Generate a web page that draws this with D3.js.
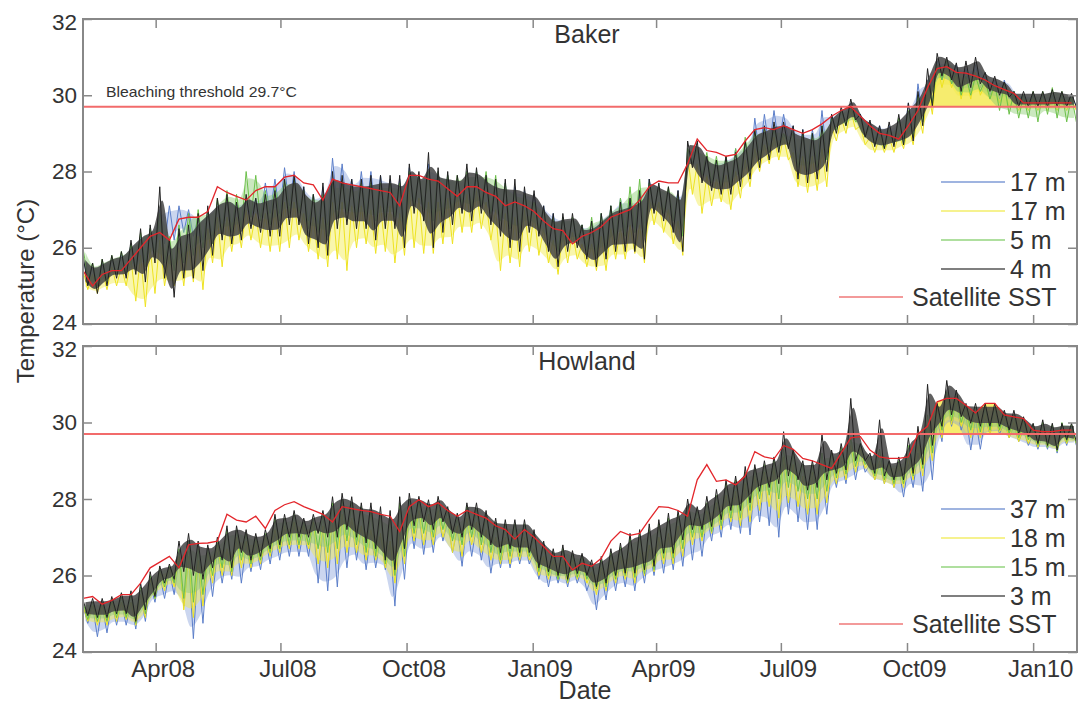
<!DOCTYPE html>
<html><head><meta charset="utf-8">
<script src="https://cdn.jsdelivr.net/npm/d3@7"></script>
<style>
body{margin:0;background:#fff}
svg{display:block}
text{font-family:"Liberation Sans",Arial,sans-serif;fill:#333}
</style>
</head><body>
<svg id="c" width="1078" height="706"></svg>
<script>
// ---------- axis / category data ----------
const startDate = new Date(2008, 1, 8);
const endDate = new Date(2010, 1, 2);
const stepDays = 7; // weekly readings: hi and lo of each week
const tickDates = [new Date(2008,3,1), new Date(2008,6,1), new Date(2008,9,1), new Date(2009,0,1),
                   new Date(2009,3,1), new Date(2009,6,1), new Date(2009,9,1), new Date(2010,0,1)];
const tickLabels = ["Apr08","Jul08","Oct08","Jan09","Apr09","Jul09","Oct09","Jan10"];
const yTicks = [24, 26, 28, 30, 32];
const threshold = 29.7;
const panelTitles = ["Baker", "Howland"];
const bakerDepths = ["17 m", "17 m", "5 m", "4 m"];
const howlandDepths = ["37 m", "18 m", "15 m", "3 m"];
const sstLabel = "Satellite SST";

// ---------- Baker series (weekly high / low, °C) ----------
const bakerBlueHi = [25.7,25.5,25.6,25.7,25.8,26.1,26.3,26.5,27.0,27.1,
27.1,27.0,26.8,27.0,27.2,27.3,27.2,27.3,27.3,27.7,
27.8,28.1,28.0,27.6,27.4,27.6,28.35,28.2,27.8,28.0,
28.0,27.9,27.8,27.8,28.1,27.9,28.2,28.0,27.9,27.8,
28.0,28.0,27.8,27.7,27.7,27.6,27.5,27.4,27.1,26.9,
26.8,26.8,26.6,26.7,26.9,27.1,27.3,27.3,27.5,27.8,
27.6,27.5,27.5,28.6,28.6,28.3,28.3,28.4,28.6,28.8,
29.4,29.5,29.6,29.5,29.2,29.1,29.1,29.6,29.5,29.6,
29.8,29.5,29.3,29.2,29.2,29.4,29.8,30.3,30.4,30.9,
30.9,30.8,30.7,30.8,30.5,30.4,30.4,30.1,30.0,30.0,
30.0,30.0,30.0,30.0];
const bakerBlueLo = [25.2,25.0,25.2,25.3,25.4,25.5,25.6,25.9,26.1,26.2,
26.4,26.3,26.2,26.3,26.6,26.6,26.6,26.8,26.8,26.9,
26.9,27.1,27.0,26.7,26.6,26.6,27.0,27.0,26.9,26.9,
26.8,26.9,26.9,26.6,27.2,27.0,26.8,26.9,27.0,27.1,
27.0,27.1,26.9,26.7,26.5,26.4,26.6,26.5,26.2,26.0,
26.1,26.2,26.0,25.9,26.0,26.2,26.4,26.4,26.3,27.0,
26.9,26.7,26.4,28.2,27.9,27.7,27.7,27.7,27.8,28.0,
28.4,28.6,28.7,28.8,28.3,28.2,28.3,28.4,29.1,29.3,
29.4,29.0,28.8,28.7,28.7,28.8,28.9,29.4,29.8,30.4,
30.3,30.1,30.1,30.2,30.0,29.9,29.9,29.7,29.7,29.7,
29.7,29.7,29.7,29.7];
const bakerYellowHi = [25.4,25.3,25.4,25.5,25.5,25.7,25.8,26.0,26.2,25.8,
26.0,26.1,26.3,26.5,26.8,26.8,26.8,27.0,26.9,26.9,
27.0,27.2,27.2,26.9,26.8,26.8,27.2,27.2,27.1,27.1,
27.0,27.1,27.1,26.9,27.5,27.3,27.2,27.2,27.3,27.4,
27.4,27.5,27.2,27.0,26.9,26.8,27.0,26.9,26.5,26.2,
26.4,26.4,26.1,26.1,26.3,26.5,26.5,26.6,26.6,27.3,
27.2,27.0,26.7,28.4,28.2,27.9,27.8,27.9,28.0,28.3,
28.6,28.7,28.9,28.9,28.5,28.4,28.4,28.6,29.2,29.4,
29.6,29.2,28.9,28.9,28.9,29.0,29.2,29.6,30.2,30.8,
30.7,30.5,30.5,30.6,30.3,30.2,30.1,29.9,29.9,29.9,
29.9,29.9,29.9,29.9];
const bakerYellowLo = [24.9,24.8,24.9,25.0,25.0,24.6,24.45,24.8,25.0,25.0,
25.0,25.1,24.9,25.6,25.5,25.9,26.0,26.2,26.0,25.9,
25.9,26.0,26.2,25.9,25.7,25.5,25.7,25.4,26.0,26.1,
25.85,25.9,25.6,25.8,26.0,25.85,25.85,26.1,26.1,26.4,
26.4,26.5,26.2,25.4,25.6,25.5,25.9,25.8,25.6,25.3,
25.6,25.7,25.5,25.4,25.4,25.7,25.7,25.85,25.6,26.6,
26.4,26.1,25.8,27.4,26.9,27.1,27.2,27.0,27.3,27.6,
28.0,28.2,28.3,28.3,27.6,27.45,27.5,27.6,28.8,29.0,
29.1,28.7,28.5,28.5,28.5,28.6,28.7,29.0,29.5,30.2,
30.2,29.9,29.9,30.0,29.9,29.8,29.7,29.6,29.6,29.6,
29.6,29.6,29.6,29.6];
const bakerGreenHi = [26.0,25.6,25.7,25.8,25.9,26.1,26.4,26.5,26.9,26.3,
26.6,26.9,27.0,27.0,27.3,27.5,27.4,28.0,27.9,27.5,
27.6,27.8,27.8,27.5,27.4,27.4,27.7,27.7,27.6,27.7,
27.7,27.7,27.7,27.7,28.0,27.9,28.0,28.0,27.9,27.9,
28.0,28.0,28.0,27.9,27.7,27.5,27.4,27.2,27.0,26.8,
26.8,26.8,26.6,26.8,26.9,27.1,27.3,27.6,27.8,27.7,
27.6,27.6,27.4,28.6,28.6,28.5,28.4,28.4,28.6,28.9,
29.1,29.1,29.1,29.0,29.0,29.0,29.0,29.2,29.4,29.6,
29.7,29.4,29.2,29.1,29.1,29.4,29.6,30.0,30.3,30.8,
30.9,30.6,30.5,30.5,30.4,30.3,30.3,30.1,30.0,30.1,
30.1,30.2,30.1,30.0];
const bakerGreenLo = [25.2,25.0,25.1,25.3,25.3,25.4,25.5,25.8,25.6,25.4,
25.6,25.8,26.0,26.1,26.4,26.4,26.5,26.8,26.7,26.6,
26.7,26.9,26.9,26.5,26.4,26.3,26.8,26.9,26.8,26.8,
26.7,26.8,26.8,26.5,27.1,27.0,26.7,26.8,26.9,27.1,
27.0,27.1,26.9,26.7,26.5,26.4,26.6,26.5,26.2,25.9,
26.1,26.2,25.9,25.8,25.9,26.2,26.3,26.4,26.3,27.0,
26.9,26.7,26.3,28.2,27.9,27.7,27.6,27.6,27.8,28.0,
28.3,28.5,28.6,28.7,28.1,28.0,28.1,28.3,29.1,29.2,
29.3,28.9,28.7,28.6,28.7,28.7,28.9,29.3,29.8,30.4,
30.3,30.0,30.0,30.1,29.9,29.6,29.5,29.4,29.4,29.3,
29.5,29.4,29.3,29.3];
const bakerBlackHi = [25.8,25.6,25.7,25.8,25.9,26.2,26.5,26.6,27.6,26.2,
26.5,26.6,26.9,27.1,27.3,27.4,27.2,27.4,27.3,27.4,
27.5,27.8,27.9,27.6,27.4,27.7,28.0,27.9,27.8,27.8,
27.9,27.9,27.9,27.9,28.2,28.0,28.5,28.1,28.0,27.9,
28.2,28.1,27.9,27.8,27.8,27.8,27.6,27.5,27.1,26.9,
26.9,26.9,26.6,26.7,26.9,27.1,27.2,27.3,27.5,27.8,
27.7,27.6,27.5,28.8,28.8,28.4,28.3,28.4,28.5,28.8,
29.1,29.2,29.3,29.3,29.2,29.1,29.0,29.2,29.5,29.7,
29.9,29.5,29.35,29.2,29.3,29.5,29.8,30.1,30.7,31.1,
31.0,30.85,30.9,31.0,30.6,30.5,30.35,30.1,30.1,30.1,
30.1,30.15,30.1,30.05];
const bakerBlackLo = [25.0,24.8,25.0,25.2,25.2,25.3,25.1,25.6,25.2,24.7,
25.2,25.2,25.4,25.8,26.2,26.1,26.2,26.5,26.4,26.3,
26.3,26.6,26.6,26.1,26.0,25.8,26.5,26.6,26.5,26.5,
26.2,26.5,26.5,26.0,26.9,26.7,26.0,26.4,26.6,26.9,
26.7,26.9,26.6,26.3,26.0,25.9,26.4,26.3,25.9,25.5,
25.9,26.0,25.7,25.5,25.7,25.9,25.9,25.9,25.7,26.9,
26.7,26.4,25.9,28.1,27.7,27.5,27.4,27.4,27.6,27.8,
28.1,28.3,28.5,28.6,27.8,27.7,27.8,28.0,29.0,29.2,
29.35,28.9,28.65,28.6,28.65,28.7,28.8,29.2,29.7,30.5,
30.4,30.1,30.2,30.3,30.1,30.0,29.95,29.7,29.7,29.7,
29.7,29.7,29.7,29.7];
const bakerSST = [25.4,25.0,25.3,25.4,25.4,25.7,26.0,26.3,26.4,26.2,
26.75,26.8,26.8,26.95,27.6,27.45,27.35,27.25,27.5,27.6,
27.6,27.85,27.9,27.7,27.65,27.25,27.8,27.7,27.65,27.6,
27.55,27.5,27.45,27.1,27.9,27.9,27.8,27.75,27.55,27.35,
27.6,27.6,27.45,27.35,27.1,27.2,27.1,26.95,26.7,26.5,
26.45,26.1,26.3,26.4,26.55,26.8,26.9,27.0,27.25,27.6,
27.75,27.7,27.7,28.2,28.85,28.55,28.5,28.4,28.45,28.8,
29.1,29.15,29.1,29.2,29.1,29.0,29.1,29.25,29.45,29.6,
29.7,29.45,29.2,29.0,28.95,28.85,29.2,29.6,30.2,30.7,
30.75,30.6,30.58,30.5,30.4,30.25,30.15,30.05,29.8,29.8,
29.8,29.8,29.8,29.8];

// ---------- Howland series (weekly high / low, °C) ----------
const howlandBlueHi = [25.2,25.2,25.2,25.3,25.3,25.3,25.5,25.8,26.0,26.1,
26.4,26.4,26.3,26.5,26.6,26.6,26.9,26.8,26.8,27.0,
27.1,27.2,27.3,27.2,27.3,27.2,27.4,27.5,27.4,27.2,
27.1,27.0,26.8,27.2,27.6,27.6,27.5,27.6,27.4,27.2,
27.4,27.3,27.1,26.9,26.9,26.9,26.9,26.6,26.4,26.3,
26.3,26.3,26.2,26.0,26.1,26.3,26.4,26.5,26.6,26.7,
26.9,27.0,27.2,27.5,27.5,27.6,27.8,28.0,28.1,28.3,
28.5,28.6,28.7,28.9,28.8,28.5,28.6,28.8,28.9,29.0,
29.3,29.2,28.9,28.9,28.8,28.8,28.9,29.2,29.7,30.1,
30.6,30.5,30.2,30.1,30.1,30.2,30.0,29.9,29.8,29.7,
29.7,29.9,29.8,29.9];
const howlandBlueLo = [24.75,24.4,24.5,24.7,24.7,24.6,24.8,25.3,25.4,25.5,
25.2,24.35,24.75,25.45,25.8,25.9,25.8,26.1,26.15,26.3,
26.4,26.5,26.5,26.5,25.8,25.6,25.7,26.2,26.4,26.15,
26.2,26.15,25.2,25.9,26.7,26.55,26.6,26.9,26.6,26.24,
26.5,26.4,26.06,26.2,26.2,26.3,26.3,25.9,25.7,25.8,
25.7,25.8,25.6,25.1,25.36,25.6,25.7,25.6,25.8,26.0,
26.06,26.15,26.24,26.4,26.5,26.9,27.0,27.2,27.1,27.06,
27.4,27.3,27.0,27.6,27.4,27.2,27.2,27.6,28.3,28.4,
28.5,28.7,28.5,28.4,28.3,28.05,28.3,28.2,28.5,29.5,
29.9,29.8,29.28,29.3,29.7,29.7,29.6,29.5,29.4,29.3,
29.3,29.2,29.4,29.4];
const howlandYellowHi = [25.2,25.2,25.2,25.3,25.3,25.3,25.5,25.9,26.1,26.2,
26.5,26.5,26.4,26.6,26.8,26.7,27.0,26.9,26.9,27.0,
27.2,27.3,27.4,27.3,27.4,27.3,27.5,27.6,27.5,27.3,
27.2,27.1,26.9,27.3,27.7,27.7,27.6,27.7,27.5,27.3,
27.5,27.4,27.2,27.0,27.0,27.0,27.0,26.7,26.5,26.4,
26.4,26.4,26.3,26.1,26.2,26.4,26.5,26.6,26.7,26.8,
27.0,27.1,27.3,27.6,27.5,27.7,27.9,28.1,28.2,28.4,
28.6,28.7,28.8,29.1,28.9,28.6,28.7,28.9,29.0,29.1,
29.4,29.3,29.0,29.0,28.9,28.9,29.1,29.4,29.9,30.3,
30.7,30.6,30.3,30.2,30.2,30.2,30.1,30.0,29.9,29.8,
29.8,29.7,29.8,29.8];
const howlandYellowLo = [24.8,24.7,24.7,24.8,24.85,24.7,24.9,25.4,25.6,25.7,
25.1,24.9,25.2,25.8,26.0,26.0,26.2,26.2,26.3,26.5,
26.6,26.7,26.7,26.7,26.3,26.2,26.3,26.6,26.6,26.4,
26.4,26.2,25.8,26.3,26.9,26.8,26.8,27.0,26.6,26.5,
26.8,26.6,26.4,26.3,26.3,26.4,26.4,26.0,25.9,25.9,
25.8,25.9,25.8,25.5,25.6,25.8,25.9,25.8,26.0,26.1,
26.3,26.3,26.5,26.8,26.9,27.1,27.2,27.4,27.3,27.4,
27.7,27.8,27.5,27.9,27.8,27.6,27.6,27.9,28.4,28.5,
28.7,28.8,28.5,28.4,28.3,28.3,28.5,28.6,29.0,29.6,
29.95,29.9,29.6,29.6,29.7,29.75,29.6,29.5,29.45,29.35,
29.35,29.25,29.45,29.45];
const howlandGreenHi = [25.3,25.3,25.3,25.4,25.45,25.5,25.7,26.0,26.2,26.25,
26.7,26.9,26.7,26.7,26.9,27.2,27.2,27.1,27.0,27.1,
27.5,27.5,27.6,27.4,27.5,27.6,27.9,28.0,27.9,27.8,
27.7,27.6,27.5,27.9,28.0,27.95,27.85,27.9,27.7,27.5,
27.8,27.75,27.6,27.4,27.35,27.35,27.35,27.1,26.8,26.6,
26.7,26.55,26.5,26.3,26.4,26.6,26.75,27.0,27.1,27.2,
27.35,27.5,27.6,27.8,27.7,27.9,28.1,28.4,28.5,28.7,
28.8,28.9,29.0,29.3,29.2,28.9,28.9,29.2,29.2,29.35,
29.6,29.4,29.1,29.3,28.95,29.0,29.4,29.7,30.2,30.4,
30.8,30.7,30.4,30.4,30.4,30.4,30.25,30.2,30.05,29.95,
30.0,29.95,30.0,29.95];
const howlandGreenLo = [24.85,24.8,24.8,24.9,24.9,24.75,25.0,25.4,25.7,25.8,
25.4,25.3,25.5,26.0,26.2,26.1,26.4,26.3,26.4,26.6,
26.7,26.8,26.8,26.8,26.7,26.6,26.7,26.9,26.8,26.6,
26.5,26.3,26.0,26.5,27.1,27.1,27.0,27.2,26.9,26.8,
27.0,26.8,26.6,26.4,26.5,26.5,26.5,26.1,26.0,25.9,
25.85,25.95,25.9,25.65,25.7,25.9,26.0,25.95,26.05,26.15,
26.45,26.45,26.7,27.0,27.0,27.15,27.3,27.5,27.5,27.7,
28.0,28.1,28.0,28.3,28.2,28.0,28.0,28.2,28.55,28.65,
28.85,28.9,28.6,28.5,28.4,28.4,28.6,28.8,29.2,29.8,
30.05,30.0,29.8,29.75,29.8,29.8,29.7,29.6,29.55,29.4,
29.35,29.25,29.5,29.45];
const howlandBlackHi = [25.36,25.4,25.4,25.45,25.55,25.6,25.8,26.1,26.25,26.3,
26.9,27.1,26.9,26.8,27.0,27.3,27.3,27.2,27.1,27.2,
27.6,27.6,27.7,27.5,27.6,27.7,28.06,28.15,28.06,27.9,
27.9,27.8,27.7,28.06,28.15,28.07,27.98,28.07,27.8,27.63,
27.9,27.9,27.7,27.5,27.46,27.46,27.46,27.2,26.9,26.7,
26.8,26.65,26.58,26.41,26.5,26.7,26.85,27.1,27.2,27.35,
27.46,27.63,27.7,28.0,27.8,28.07,28.25,28.5,28.6,28.85,
28.9,29.0,29.1,29.76,29.3,29.0,29.0,29.7,29.28,29.45,
30.63,29.45,29.2,30.07,29.0,29.1,29.6,29.9,31.0,30.5,
31.1,30.85,30.5,30.5,30.5,30.5,30.32,30.32,30.15,29.98,
30.07,29.98,29.98,29.98];
const howlandBlackLo = [24.95,24.9,24.9,25.0,25.0,24.8,25.1,25.45,25.8,25.9,
26.1,26.0,25.9,26.2,26.4,26.2,26.6,26.4,26.5,26.7,
26.8,27.0,27.0,27.0,27.1,27.0,27.0,27.2,27.0,26.85,
26.7,26.4,26.15,26.7,27.3,27.4,27.2,27.4,27.1,27.0,
27.2,27.0,26.8,26.6,26.7,26.6,26.6,26.2,26.1,26.0,
25.9,26.05,26.0,25.71,25.8,26.0,26.06,26.06,26.15,26.24,
26.58,26.58,26.93,27.2,27.2,27.28,27.46,27.7,27.7,27.9,
28.2,28.3,28.4,28.6,28.5,28.23,28.3,28.5,28.67,28.76,
29.0,29.0,28.67,28.6,28.5,28.5,28.67,28.9,29.4,29.9,
30.2,30.15,29.98,29.9,29.9,29.9,29.8,29.7,29.63,29.45,
29.4,29.28,29.55,29.5];
const howlandSST = [25.4,25.45,25.25,25.35,25.5,25.5,25.8,26.2,26.35,26.5,
26.2,26.8,26.84,26.85,26.9,27.6,27.45,27.4,27.55,27.23,
27.7,27.85,27.93,27.8,27.7,27.6,27.4,27.8,27.75,27.7,
27.67,27.6,27.55,27.15,27.8,27.98,27.8,27.9,27.7,27.55,
27.7,27.6,27.5,27.3,27.2,26.95,27.2,27.0,26.76,26.5,
26.5,26.15,26.32,26.24,26.45,26.9,27.15,27.05,27.1,27.46,
27.8,27.78,27.7,27.55,28.5,28.9,28.46,28.5,28.37,28.6,
29.24,29.1,29.05,29.4,29.3,29.06,29.0,28.9,28.8,29.2,
29.6,29.63,29.28,29.1,29.06,29.06,29.1,29.7,29.9,30.54,
30.63,30.63,30.45,30.25,30.5,30.5,30.2,30.15,30.1,29.8,
29.76,29.76,29.8,29.8];

// ---------- styling ----------
const seriesColors = ["#5b7ec9", "#eee321", "#6cc04a", "#222222"];
const bandColors = ["#7d98d6", "#f2ea4a", "#8ccd70", "#444444"];
const bandOpacity = [0.4, 0.45, 0.45, 0.85];
const legendColors = ["#7f9bd6", "#f3ee6a", "#95d47f", "#555555"];

const svg = d3.select("#c");
const xLeft = 83, xRight = 1077;
const x = d3.scaleTime().domain([startDate, endDate]).range([xLeft, xRight]);
const weekTime = i => d3.timeHour.offset(startDate, i * stepDays * 24);
const midTime = i => d3.timeHour.offset(weekTime(i), stepDays * 6);

// weekly high at the start of the week, weekly low half a week later
function zigzag(hi, lo) {
  const pts = [];
  hi.forEach((h, i) => {
    pts.push([weekTime(i), h]);
    pts.push([d3.timeHour.offset(weekTime(i), stepDays * 12), lo[i]]);
  });
  return pts;
}

function panel(p) {
  const y = d3.scaleLinear().domain([24, 32]).range([p.bottom, p.top]);
  const clipId = "clip" + p.id;
  svg.append("clipPath").attr("id", clipId).append("rect")
    .attr("x", xLeft).attr("y", p.top).attr("width", xRight - xLeft).attr("height", p.bottom - p.top);
  const plot = svg.append("g").attr("clip-path", `url(#${clipId})`);

  const sstPts = p.sst.map((v, i) => [weekTime(i), v]);
  // yellow fill where SST exceeds threshold
  plot.append("path").datum(sstPts)
    .attr("fill", "#f6ec6e")
    .attr("d", d3.area().x(d => x(d[0])).y0(y(threshold)).y1(d => y(Math.max(d[1], threshold))));

  p.series.forEach((s, i) => {
    const band = s.hi.map((h, k) => [midTime(k), h, s.lo[k]]);
    plot.append("path").datum(band)
      .attr("fill", bandColors[i]).attr("fill-opacity", bandOpacity[i])
      .attr("d", d3.area().curve(d3.curveMonotoneX).x(d => x(d[0]))
        .y0(d => y(d[2] + (d[1] - d[2]) * 0.15)).y1(d => y(d[1] - (d[1] - d[2]) * 0.15)));
    plot.append("path").datum(zigzag(s.hi, s.lo))
      .attr("fill", "none").attr("stroke", seriesColors[i])
      .attr("stroke-width", i === 3 ? 1.0 : 1.0).attr("stroke-linejoin", "round")
      .attr("d", d3.line().x(d => x(d[0])).y(d => y(d[1])));
  });

  plot.append("line").attr("x1", xLeft).attr("x2", xRight)
    .attr("y1", y(threshold)).attr("y2", y(threshold))
    .attr("stroke", "#f26b6b").attr("stroke-width", 2);

  plot.append("path").datum(sstPts)
    .attr("fill", "none").attr("stroke", "#e3262b").attr("stroke-width", 1.3)
    .attr("d", d3.line().x(d => x(d[0])).y(d => y(d[1])));

  // axes with inward ticks on all sides
  const axStyle = g => {
    g.select(".domain").remove();
    g.selectAll(".tick line").attr("stroke", "#888").attr("stroke-width", 1.5);
    g.attr("font-family", null).attr("font-size", null);
  };
  const bottomAxis = d3.axisBottom(x).tickValues(tickDates).tickSize(-9).tickPadding(8)
    .tickFormat((d, i) => p.showX ? tickLabels[i] : "");
  svg.append("g").attr("transform", `translate(0,${p.bottom})`).call(bottomAxis).call(axStyle)
    .selectAll("text").attr("font-size", 24).attr("fill", "#333").attr("dx", 7);
  svg.append("g").attr("transform", `translate(0,${p.top})`)
    .call(d3.axisTop(x).tickValues(tickDates).tickSize(-9).tickFormat("")).call(axStyle);
  svg.append("g").attr("transform", `translate(${xLeft},0)`)
    .call(d3.axisLeft(y).tickValues(yTicks).tickSize(-9).tickPadding(6).tickFormat(d3.format("d")))
    .call(axStyle).selectAll("text").attr("font-size", 22.5).attr("fill", "#333")
    .attr("transform", d => d === 24 ? "translate(0,-2)" : d === 32 ? "translate(0,3)" : null);
  svg.append("g").attr("transform", `translate(${xRight},0)`)
    .call(d3.axisRight(y).tickValues(yTicks).tickSize(-9).tickFormat("")).call(axStyle);

  svg.append("rect").attr("x", xLeft).attr("y", p.top)
    .attr("width", xRight - xLeft).attr("height", p.bottom - p.top)
    .attr("fill", "none").attr("stroke", "#888").attr("stroke-width", 2);

  svg.append("text").attr("x", 587).attr("y", p.top + 24).attr("text-anchor", "middle")
    .attr("font-size", 25).text(p.title);

  // legend
  p.labels.forEach((lab, i) => {
    const ry = p.top + 163 + 29 * i;
    svg.append("line").attr("x1", 941).attr("x2", 1005).attr("y1", ry).attr("y2", ry)
      .attr("stroke", legendColors[i]).attr("stroke-width", 1.6);
    svg.append("text").attr("x", 1010).attr("y", ry).attr("dy", "0.36em")
      .attr("font-size", 25).text(lab);
  });
  const sy = p.top + 278;
  svg.append("line").attr("x1", 839).attr("x2", 903).attr("y1", sy).attr("y2", sy)
    .attr("stroke", "#f39a9a").attr("stroke-width", 2.2);
  svg.append("text").attr("x", 912).attr("y", sy).attr("dy", "0.36em")
    .attr("font-size", 25).text(sstLabel);
  return y;
}

panel({
  id: "b", top: 19, bottom: 324, title: panelTitles[0], showX: false, labels: bakerDepths, sst: bakerSST,
  series: [{hi: bakerBlueHi, lo: bakerBlueLo}, {hi: bakerYellowHi, lo: bakerYellowLo},
           {hi: bakerGreenHi, lo: bakerGreenLo}, {hi: bakerBlackHi, lo: bakerBlackLo}]
});
panel({
  id: "h", top: 346, bottom: 652, title: panelTitles[1], showX: true, labels: howlandDepths, sst: howlandSST,
  series: [{hi: howlandBlueHi, lo: howlandBlueLo}, {hi: howlandYellowHi, lo: howlandYellowLo},
           {hi: howlandGreenHi, lo: howlandGreenLo}, {hi: howlandBlackHi, lo: howlandBlackLo}]
});

svg.append("text").attr("x", 106).attr("y", 97).attr("font-size", 15)
  .attr("fill", "#444").attr("textLength", 191).attr("lengthAdjust", "spacingAndGlyphs")
  .text("Bleaching threshold " + threshold + "°C");

svg.append("text").attr("transform", "translate(34,291) rotate(-90)")
  .attr("text-anchor", "middle").attr("font-size", 24).text("Temperature (°C)");
svg.append("text").attr("x", 585).attr("y", 699).attr("text-anchor", "middle")
  .attr("font-size", 25).text("Date");
</script>
</body></html>
